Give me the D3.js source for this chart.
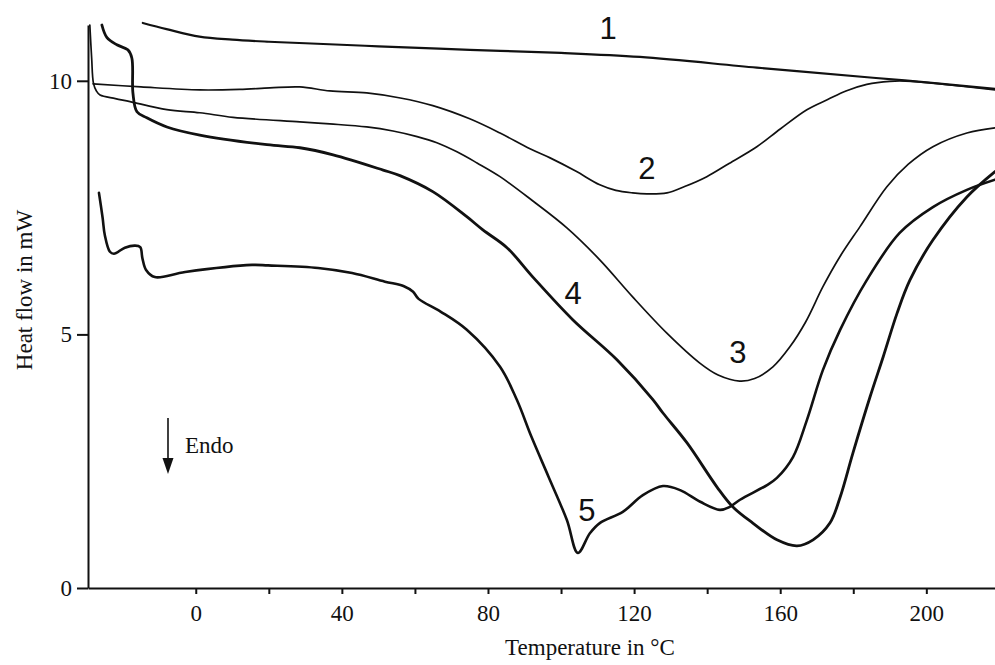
<!DOCTYPE html>
<html>
<head>
<meta charset="utf-8">
<script src="https://cdn.jsdelivr.net/npm/d3@7"></script>
<style>
  body { margin: 0; background: #fff; }
  svg { display: block; }
  .axis text { font-family: "Liberation Serif", "DejaVu Serif", serif; font-size: 23px; fill: #111; }
  .axis path, .axis line { stroke: #111; stroke-width: 2; }
  .curve { fill: none; stroke: #111; stroke-linejoin: round; stroke-linecap: round; }
  .clabel { font-family: "Liberation Sans", Arial, sans-serif; font-size: 31px; fill: #111; }
  .title { font-family: "Liberation Serif", "DejaVu Serif", serif; font-size: 23px; fill: #111; }
</style>
</head>
<body>
<div id="chart"></div>
<script>
// DSC curves: [temperature in °C, heat flow in mW]
var curve1 = [[-14.5, 11.14], [-8, 11.02], [1, 10.87], [10, 10.81], [20, 10.77], [30, 10.74],
  [50, 10.68], [75, 10.61], [100, 10.55], [121.6, 10.47], [153.6, 10.26], [185.4, 10.06],
  [200, 9.97], [218.8, 9.84]];

var curve2 = [[-28.1, 9.94], [-15, 9.88], [1.1, 9.82], [12, 9.83], [20.3, 9.86], [28.5, 9.88],
  [36.7, 9.80], [46.8, 9.76], [56, 9.66], [64.9, 9.51], [75, 9.25], [83.3, 8.97], [91.5, 8.66],
  [97, 8.48], [104, 8.22], [110.6, 7.95], [115, 7.84], [119.6, 7.79], [123.5, 7.77], [129, 7.79],
  [134, 7.92], [139.9, 8.11], [146, 8.37], [153.6, 8.70], [160, 9.05], [167.3, 9.43], [173, 9.63],
  [178, 9.80], [183.7, 9.93], [190, 9.99], [196, 9.99], [205, 9.93], [218.8, 9.82]];

var curve3 = [[-29.0, 11.1], [-28.5, 10.45], [-28.0, 9.95], [-27.2, 9.80], [-26.2, 9.72],
  [-22, 9.65], [-18, 9.59], [-7.9, 9.43], [1.1, 9.37], [10.2, 9.28], [28.5, 9.19], [36.7, 9.15],
  [46.8, 9.09], [54, 9.01], [60.6, 8.90], [66, 8.78], [71.5, 8.60], [77, 8.38], [83.3, 8.11],
  [92.3, 7.63], [101.6, 7.10], [110.6, 6.47], [119.6, 5.74], [128.9, 5.03], [137.9, 4.44],
  [143, 4.2], [148.9, 4.08], [153, 4.13], [158.0, 4.36], [162.6, 4.75], [167, 5.25], [171.7, 5.94],
  [176.5, 6.55], [181.8, 7.12], [189.2, 7.91], [195, 8.35], [201.8, 8.70], [211.1, 8.97], [218.8, 9.07]];

var curve4 = [[-25.7, 11.10], [-24.3, 10.85], [-21.6, 10.71], [-18.6, 10.61], [-17.5, 10.45],
  [-17.2, 9.76], [-16.1, 9.39], [-13.4, 9.27], [-7.9, 9.09], [1.1, 8.93], [19.5, 8.74], [28.5, 8.68],
  [37.6, 8.54], [51.3, 8.24], [55.9, 8.13], [65.0, 7.81], [74.2, 7.32], [78.6, 7.06], [85.2, 6.71],
  [92.3, 6.13], [103.2, 5.29], [115.3, 4.50], [125.2, 3.71], [127.9, 3.45], [134.5, 2.86],
  [142.7, 1.99], [147.0, 1.60], [152.5, 1.28], [159.1, 0.95], [164.6, 0.83], [169.0, 0.95],
  [173.6, 1.28], [176.4, 1.79], [179.9, 2.66], [184.6, 3.77], [188.2, 4.56], [192.0, 5.42],
  [195.5, 6.07], [201.8, 6.86], [211.1, 7.71], [218.8, 8.21]];

var curve5 = [[-26.5, 7.79], [-25.5, 7.3], [-24.9, 6.96], [-23.5, 6.63], [-22.4, 6.59], [-19.4, 6.71],
  [-16.6, 6.75], [-15.2, 6.72], [-14.6, 6.5], [-13.6, 6.27], [-11.2, 6.13], [-2.9, 6.23], [15.4, 6.37],
  [19.8, 6.36], [33.5, 6.31], [42.8, 6.21], [51.8, 6.04], [57, 5.95], [59.5, 5.84], [61, 5.70],
  [67, 5.45], [74.2, 5.09], [83.3, 4.36], [87.9, 3.71], [91.9, 2.98], [96.6, 2.19], [101.6, 1.34],
  [104.6, 0.69], [107.9, 1.08], [110.6, 1.28], [116.9, 1.50], [122.4, 1.83], [127.9, 2.01],
  [132.6, 1.93], [138.1, 1.70], [143.5, 1.54], [146.2, 1.60], [149.0, 1.74], [156.4, 2.03],
  [159.1, 2.17], [163.5, 2.58], [167.3, 3.31], [171.7, 4.30], [176.4, 5.09], [183.7, 6.07],
  [192.7, 7.00], [201.8, 7.51], [211.1, 7.85], [218.8, 8.05]];

// curve number labels: [name, temperature, heat flow]
var curveLabels = [["1", 112.9, 11.05], ["2", 123.5, 8.28], ["3", 148.4, 4.65], ["4", 103.3, 5.82], ["5", 107.1, 1.54]];

var xTicks = [0, 20, 40, 60, 80, 100, 120, 140, 160, 180, 200];
var yTicks = [0, 5, 10];

// "Endo" arrow, in data units
var endoArrow = { t: -7.6, from: 3.35, to: 2.25 };

//svg size
var svgwidth = 995;
var svgheight = 665;

var svg = d3.select("#chart").append("svg")
    .attr("width", svgwidth)
    .attr("height", svgheight);

//scales
var xScale = d3.scaleLinear().domain([-29.5, 218.8]).range([88, 995]);
var yScale = d3.scaleLinear().domain([0, 11.1]).range([588, 25]);

//x axis
var xAxis = d3.axisBottom(xScale)
    .tickValues(xTicks)
    .tickSize(6)
    .tickSizeOuter(0)
    .tickPadding(11)
    .tickFormat(d => d % 40 === 0 ? d : "");
svg.append("g")
    .attr("class", "axis")
    .attr("transform", `translate(0, ${yScale(0)})`)
    .call(xAxis);

//y axis
var yAxis = d3.axisLeft(yScale)
    .tickValues(yTicks)
    .tickSize(11)
    .tickSizeOuter(0)
    .tickPadding(5);
svg.append("g")
    .attr("class", "axis")
    .attr("transform", `translate(${xScale(-29.5)}, 0)`)
    .call(yAxis);

//curves
var line = d3.line()
    .x(d => xScale(d[0]))
    .y(d => yScale(d[1]))
    .curve(d3.curveCatmullRom.alpha(0.5));

var curves = [[curve1, 2.2], [curve2, 1.7], [curve3, 1.7], [curve4, 2.8], [curve5, 2.6]];
curves.forEach(function(c) {
    svg.append("path")
        .attr("class", "curve")
        .attr("d", line(c[0]))
        .attr("stroke-width", c[1]);
});

//curve numbers
svg.selectAll(".clabel")
    .data(curveLabels)
    .enter()
    .append("text")
    .attr("class", "clabel")
    .attr("x", d => xScale(d[1]))
    .attr("y", d => yScale(d[2]))
    .attr("text-anchor", "middle")
    .attr("dy", "0.36em")
    .text(d => d[0]);

//endo arrow
var ax = xScale(endoArrow.t);
var yFrom = yScale(endoArrow.from);
var yTo = yScale(endoArrow.to);
svg.append("line")
    .attr("x1", ax).attr("x2", ax)
    .attr("y1", yFrom).attr("y2", yTo - 14)
    .attr("stroke", "#111")
    .attr("stroke-width", 1.6);
svg.append("path")
    .attr("d", `M${ax - 5.5},${yTo - 16} L${ax + 5.5},${yTo - 16} L${ax},${yTo} Z`)
    .attr("fill", "#111");
svg.append("text")
    .attr("class", "title")
    .attr("x", ax + 17)
    .attr("y", yFrom + 35)
    .text("Endo");

//axis titles
svg.append("text")
    .attr("class", "title")
    .attr("x", 590)
    .attr("y", 655)
    .attr("text-anchor", "middle")
    .text("Temperature in °C");

svg.append("text")
    .attr("class", "title")
    .attr("transform", "translate(32, 290) rotate(-90)")
    .attr("text-anchor", "middle")
    .text("Heat flow in mW");
</script>
</body>
</html>
